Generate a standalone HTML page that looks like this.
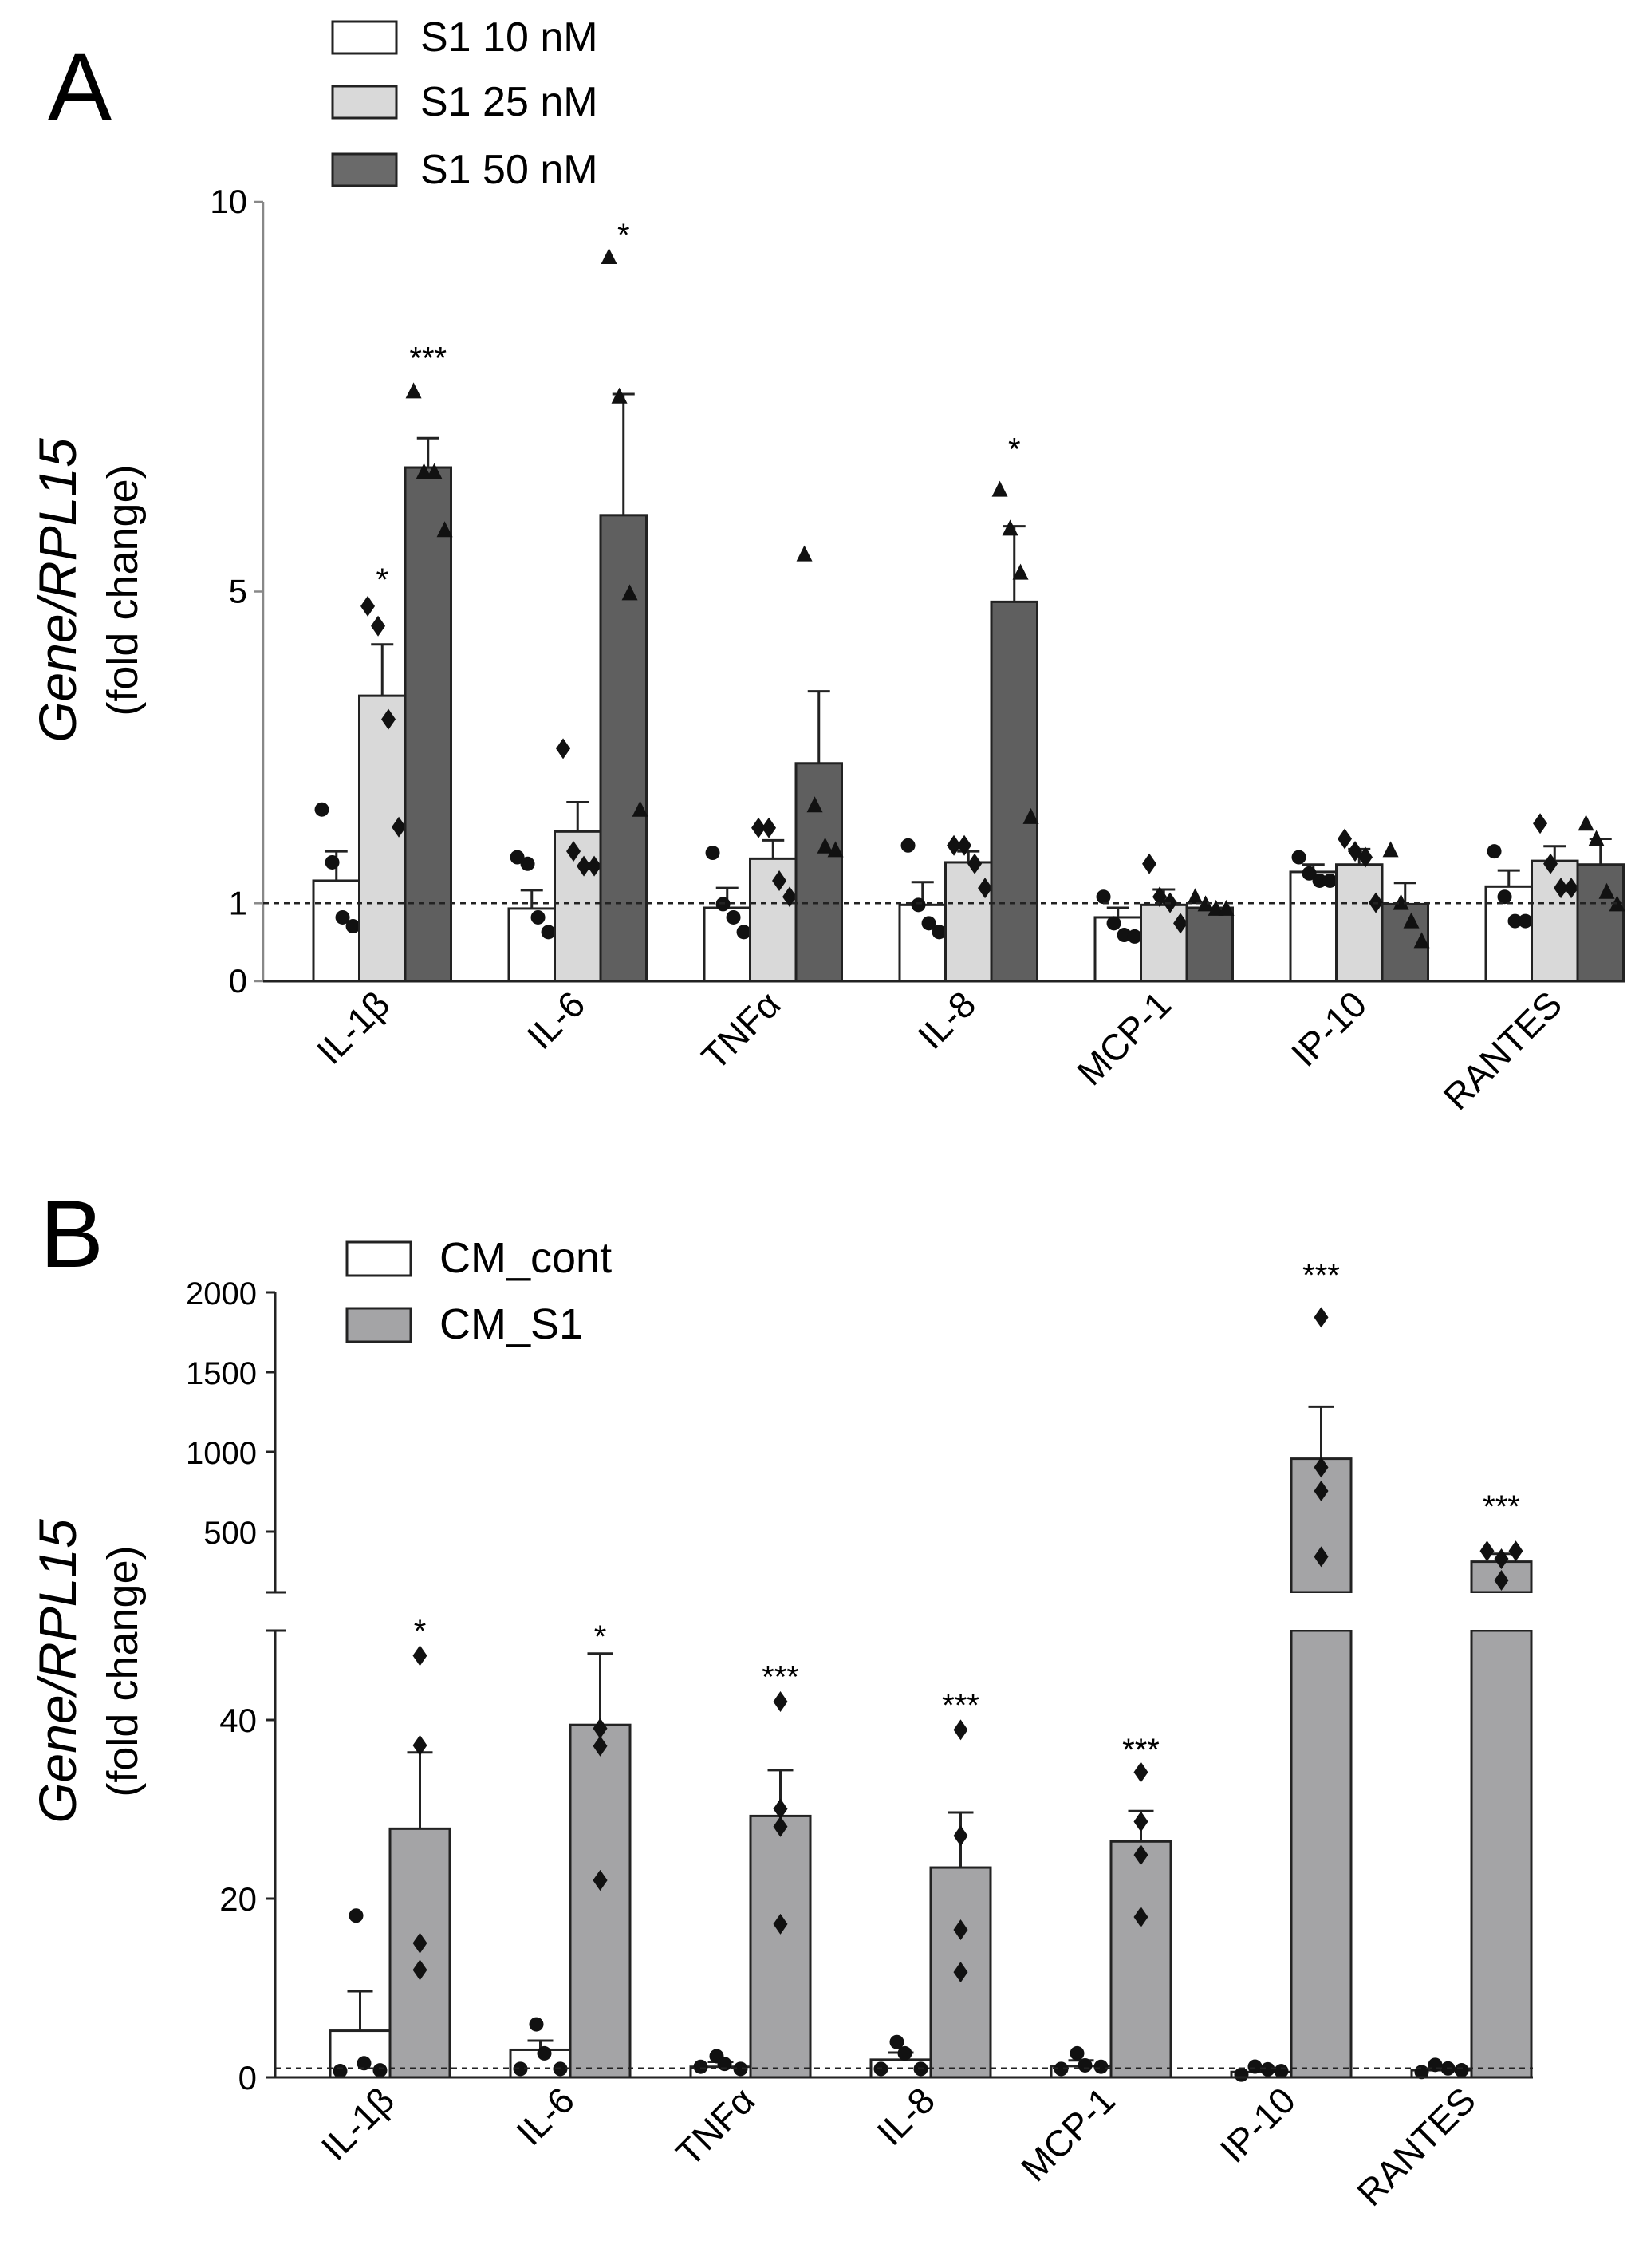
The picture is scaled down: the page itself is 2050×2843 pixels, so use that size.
<!DOCTYPE html>
<html><head><meta charset="utf-8"><style>
html,body{margin:0;padding:0;background:#fff;}
svg{display:block;font-family:"Liberation Sans",Arial,sans-serif;}
</style></head><body>
<svg id="s" width="2050" height="2843" viewBox="0 0 2050 2843" xmlns="http://www.w3.org/2000/svg"></svg>
<script>
const S=document.getElementById('s');let h='';
function r(x,y,w,hh,f){h+=`<rect x="${x}" y="${y}" width="${w}" height="${hh}" fill="${f}" stroke="#222" stroke-width="3"/>`;}
function l(x1,y1,x2,y2,w,c,d){h+=`<line x1="${x1}" y1="${y1}" x2="${x2}" y2="${y2}" stroke="${c||'#222'}" stroke-width="${w||3}" ${d?`stroke-dasharray="${d}"`:''}/>`;}
function t(x,y,s,sz,a,extra){h+=`<text x="${x}" y="${y}" font-size="${sz}" text-anchor="${a||'start'}" ${extra||''}>${s}</text>`;}
function mk(type,x,y){const s=9;
 if(type==0)h+=`<circle cx="${x}" cy="${y}" r="${s}" fill="#111"/>`;
 else if(type==1)h+=`<polygon points="${x},${y-13} ${x+9},${y} ${x},${y+13} ${x-9},${y}" fill="#111"/>`;
 else h+=`<polygon points="${x},${y-11} ${x+10},${y+9} ${x-10},${y+9}" fill="#111"/>`;}
const labs=['IL-1&#946;','IL-6','TNF&#945;','IL-8','MCP-1','IP-10','RANTES'];
// ---------- Panel A ----------
const Ay=v=>1230-v*97.7, zv=y=>(1337-y)/106.2;
const cols=['#ffffff','#d9d9d9','#5f5f5f'];
const A=[
 [[1200,1160,[1103,1175,1250,1262]],[948,878,[826,853,980,1127]],[637,597,[533,643,643,722]]],
 [[1238,1213,[1168,1177,1250,1270]],[1133,1093,[1020,1160,1180,1180]],[702,537,[350,540,808,1103]]],
 [[1237,1210,[1162,1232,1250,1270]],[1170,1145,[1128,1128,1200,1222]],[1040,942,[755,1097,1153,1158]]],
 [[1233,1202,[1152,1233,1258,1270]],[1175,1160,[1152,1152,1177,1210]],[820,717,[667,720,780,1113]]],
 [[1250,1237,[1222,1258,1274,1276]],[1233,1212,[1177,1222,1230,1258]],[1237,1237,[1222,1232,1238,1238]]],
 [[1188,1178,[1168,1190,1200,1200]],[1178,1157,[1143,1160,1168,1230]],[1232,1203,[1158,1230,1255,1282]]],
 [[1208,1186,[1160,1222,1255,1255]],[1173,1153,[1122,1177,1210,1210]],[1178,1143,[1122,1143,1215,1232]]]];
const Astars=[[null,[785,'*'],[483,'***']],[null,null,[315,'*']],[null,null,null],[null,null,[607,'*']],[null,null,null],[null,null,null],[null,null,null]];
const bw=57.5;
A.forEach((g,gi)=>{const gx=393+245*gi;
 g.forEach((b,k)=>{const x=gx+k*bw, yt=Ay(zv(b[0])), ye=Ay(zv(b[1]));
  r(x,yt,bw,1230-yt,cols[k]);
  if(ye<yt-1){l(x+bw/2,yt,x+bw/2,ye);l(x+bw/2-14,ye,x+bw/2+14,ye);}
  const off=[-14,-4,6,16];
  b[2].forEach((y,i)=>mk(k,x+bw/2+off[i]*1.3,Ay(zv(y))));
  const st=Astars[gi][k]; if(st)t(x+bw/2,Ay(zv(st[0]))+18,st[1],40,'middle');
 });
 t(gx+bw*1.5+12,1262,labs[gi],46,'end',`transform="rotate(-45 ${gx+bw*1.5+12} 1262)"`);
});
l(1,1,1,1);
l(330,253,330,1230,2.5,'#888');l(330,1230,2035,1230,3);
[[0,'0'],[1,'1'],[5,'5'],[10,'10']].forEach(([v,s])=>{l(318,Ay(v),330,Ay(v),2.5,'#888');t(310,Ay(v)+14,s,42,'end');});
l(330,Ay(1),2035,Ay(1),2.5,'#222','7,6');
t(60,150,'A',120);
[['S1 10 nM','#fff',27],['S1 25 nM','#d9d9d9',108],['S1 50 nM','#6a6a6a',193]].forEach(([s,c,y])=>{r(417,y,80,40,c);t(527,y+37,s,52);});
t(95,740,'<tspan font-style="italic">Gene/RPL15</tspan>',66,'middle','transform="rotate(-90 95 740)"');
t(172,740,'(fold change)',54,'middle','transform="rotate(-90 172 740)"');
// ---------- Panel B ----------
const By=v=>2604-v*11.2, Bu=v=>1620+(2000-v)*0.2;
const zl=y=>(1312-y)/12.65;
const B=[
 [[1246,1190,[1303,1083,1292,1302]],[960,852,[715,842,1122,1160]],675,'*'],
 [[1273,1260,[1300,1237,1278,1300]],[813,712,[818,843,1033,1033]],683,'*'],
 [[1297,1290,[1297,1282,1293,1300]],[942,877,[780,932,957,1095]],740,'***'],
 [[1287,1277,[1300,1262,1278,1300]],[1015,937,[820,970,1103,1163]],780,'***'],
 [[1296,1288,[1300,1278,1295,1297]],[978,935,[880,950,997,1085]],843,'***']];
const bwB=75;
const grey='#a4a4a6';
B.forEach((g,gi)=>{const gx=414+226*gi;
 const w=g[0], gy=g[1];
 let yt=By(zl(w[0])), ye=By(zl(w[1]));
 r(gx,yt,bwB,2604-yt,'#fff');l(gx+bwB/2,yt,gx+bwB/2,ye);l(gx+bwB/2-16,ye,gx+bwB/2+16,ye);
 [-25,-5,5,25].forEach((o,i)=>mk(0,gx+bwB/2+o,By(zl(w[2][i]))));
 const x=gx+bwB; yt=By(zl(gy[0])); ye=By(zl(gy[1]));
 r(x,yt,bwB,2604-yt,grey);l(x+bwB/2,yt,x+bwB/2,ye);l(x+bwB/2-16,ye,x+bwB/2+16,ye);
 gy[2].forEach(y=>mk(1,x+bwB/2,By(zl(y))));
 t(x+bwB/2,By(zl(g[2]))+18,g[3],40,'middle');
});
// IP-10 and RANTES
[[5,[0.6,[0.3,1.2,0.9,0.7]],[957,1283,[1843,903,755,343]]],[6,[0.8,[0.6,1.4,1.0,0.8]],[312,361,[379,379,330,195]]]].forEach(([gi,w,gy])=>{
 const gx=414+226*gi;
 const yt=By(w[0]); r(gx,yt,bwB,2604-yt,'#fff');
 [-25,-8,8,25].forEach((o,i)=>mk(0,gx+bwB/2+o,By(w[1][i])));
 const x=gx+bwB;
 r(x,2044,bwB,560,grey);
 const yu=Bu(gy[0]), ye=Bu(gy[1]);
 r(x,yu,bwB,1996-yu,grey);
 h+=`<rect x="${x-2}" y="1997" width="${bwB+4}" height="46" fill="#fff"/>`;
 l(x+bwB/2,yu,x+bwB/2,ye);l(x+bwB/2-16,ye,x+bwB/2+16,ye);
 const xs=gi==6?[-18,18,0,0]:[0,0,0,0];
 gy[2].forEach((v,i)=>mk(1,x+bwB/2+xs[i],Bu(v)));
 t(x+bwB/2,(gi==5?1612:1902),'***',40,'middle');
});
for(let gi=0;gi<7;gi++){const cx=414+226*gi+bwB+8;t(cx,2636,labs[gi],46,'end',`transform="rotate(-45 ${cx} 2636)"`);}
l(345,2044,345,2604,3);l(345,2604,1922,2604,3);
l(345,1620,345,1996,3);
[[0,'0'],[20,'20'],[40,'40']].forEach(([v,s])=>{l(333,By(v),345,By(v),3);t(322,By(v)+15,s,42,'end');});
l(333,2044,358,2044,3);l(333,1996,358,1996,3);
[[2000,'2000'],[1500,'1500'],[1000,'1000'],[500,'500']].forEach(([v,s])=>{l(333,Bu(v),345,Bu(v),3);t(322,Bu(v)+15,s,40,'end');});
l(345,By(1),1922,By(1),2.5,'#222','7,6');
t(50,1588,'B',120);
[['CM_cont','#fff',1557],['CM_S1',grey,1640]].forEach(([s,c,y])=>{r(435,y,80,42,c);t(551,y+38,s,54);});
t(95,2095,'<tspan font-style="italic">Gene/RPL15</tspan>',66,'middle','transform="rotate(-90 95 2095)"');
t(172,2095,'(fold change)',54,'middle','transform="rotate(-90 172 2095)"');
S.innerHTML=h;
</script>
</body></html>
